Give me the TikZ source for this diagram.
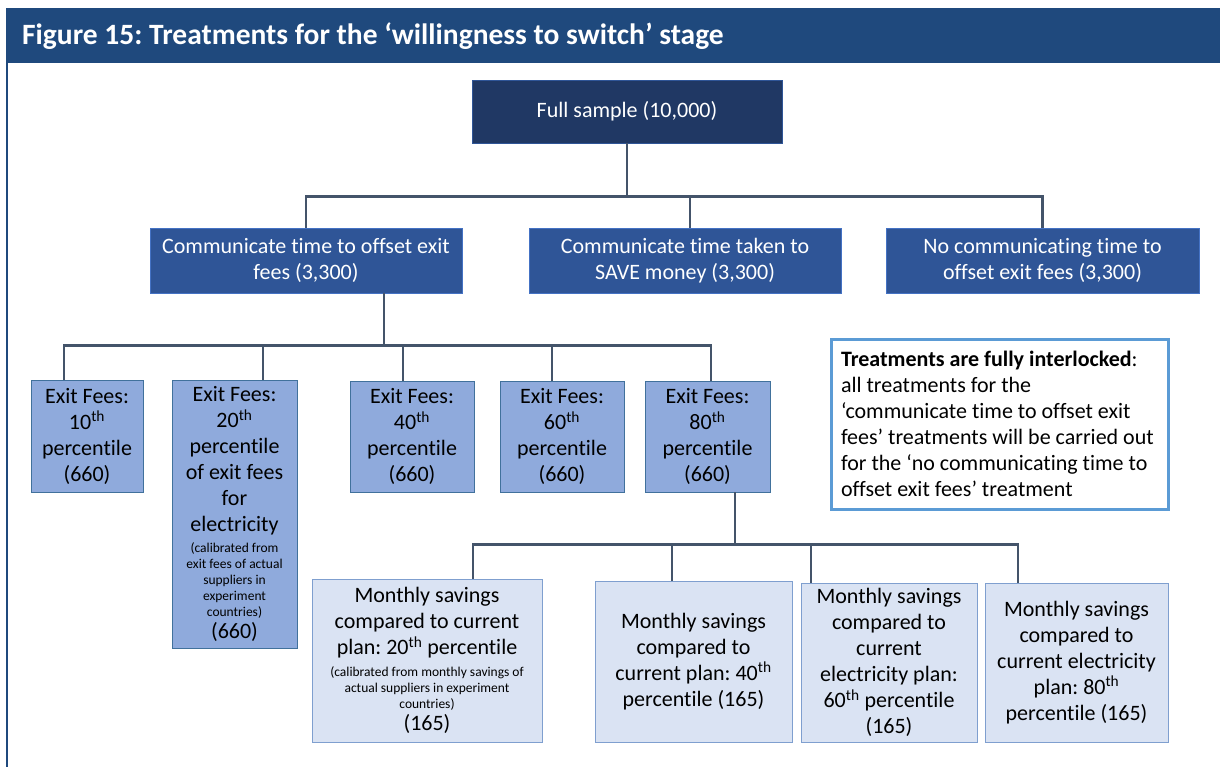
\documentclass[tikz,border=0pt]{standalone}
\usepackage{fontspec}
\setmainfont{Carlito}[Ligatures=NoCommon]
\usetikzlibrary{calc}
\definecolor{barblue}{HTML}{1F497D}
\definecolor{navy}{HTML}{203864}
\definecolor{midblue}{HTML}{2F5597}
\definecolor{midedge}{HTML}{4472C4}
\definecolor{exitfill}{HTML}{8FAADC}
\definecolor{exitedge}{HTML}{41719C}
\definecolor{paleblue}{HTML}{DAE3F3}
\definecolor{paleedge}{HTML}{7F9FCF}
\definecolor{noteedge}{HTML}{5B9BD5}
\definecolor{linkcol}{HTML}{44546A}
\newcommand\smallnote{\fontsize{13.5}{16}\selectfont}
\begin{document}
\frenchspacing
\begin{tikzpicture}[x=1pt,y=-1pt,
  basebox/.style={draw, line width=0.9pt, inner xsep=2pt, inner ysep=0pt, align=flush center,
    font=\fontsize{22}{26}\selectfont},
  topbox/.style={basebox, fill=navy, draw=midblue, text=white},
  treatbox/.style={basebox, fill=midblue, draw=midedge, text=white},
  exitbox/.style={basebox, fill=exitfill, draw=exitedge, text=black},
  savebox/.style={basebox, fill=paleblue, draw=paleedge, text=black},
  notebox/.style={draw=noteedge, line width=3pt, fill=white, inner xsep=10pt, inner ysep=0pt,
    align=flush left, text=black, font=\fontsize{22}{26}\selectfont},
  conn/.style={draw=linkcol, line width=2.6pt}
]
% page and frame
\fill[white] (0,0) rectangle (1220,767);
\useasboundingbox (0,0) rectangle (1220,767);
\fill[barblue] (6,8) rectangle (1220,63);
\draw[barblue, line width=2.2pt] (7,63) -- (7,767);
\node[anchor=west, inner sep=0pt, text=white, font=\fontsize{29.5}{34}\selectfont\bfseries]
  (title) at (22,36) {Figure 15: Treatments for the ‘willingness to switch’ stage};

% level 1
\node[topbox, text width=306pt, minimum height=63pt] (full) at (627,111.5) {Full sample (10,000)};

% level 2
\node[treatbox, text width=308pt, minimum height=65pt] (ca) at (306,260.5)
  {Communicate time to offset exit\\fees (3,300)};
\node[treatbox, text width=308pt, minimum height=65pt] (cb) at (685,260.5)
  {Communicate time taken to\\SAVE money (3,300)};
\node[treatbox, text width=309pt, minimum height=65pt] (cc) at (1042.5,260.5)
  {No communicating time to\\offset exit fees (3,300)};

% level 3: exit fee treatments
\node[exitbox, text width=108pt, minimum height=112pt] (e10) at (87,436)
  {Exit Fees:\\10\textsuperscript{th}\\percentile\\(660)};
\node[exitbox, text width=121pt, minimum height=268pt] (e20) at (234.5,514)
  {Exit Fees:\\20\textsuperscript{th}\\percentile\\of exit fees\\for\\electricity\par
   \vspace{5pt}{\smallnote (calibrated from\\exit fees of actual\\suppliers in\\experiment\\countries)\par}
   \vspace{-4pt}(660)};
\node[exitbox, text width=120pt, minimum height=111pt] (e40) at (412,436.5)
  {Exit Fees:\\40\textsuperscript{th}\\percentile\\(660)};
\node[exitbox, text width=120pt, minimum height=111pt] (e60) at (562,436.5)
  {Exit Fees:\\60\textsuperscript{th}\\percentile\\(660)};
\node[exitbox, text width=121pt, minimum height=111pt] (e80) at (707.5,436.5)
  {Exit Fees:\\80\textsuperscript{th}\\percentile\\(660)};

% level 4: monthly savings treatments
\node[savebox, text width=226pt, minimum height=163pt] (m20) at (427,660.5)
  {Monthly savings\\compared to current\\plan: 20\textsuperscript{th} percentile\par
   \vspace{6pt}{\smallnote (calibrated from monthly savings of\\actual suppliers in experiment\\countries)\par}
   \vspace{-4pt}(165)};
\node[savebox, text width=193pt, minimum height=161pt] (m40) at (693.5,661.5)
  {Monthly savings\\compared to\\current plan: 40\textsuperscript{th}\\percentile (165)};
\node[savebox, text width=172pt, minimum height=159pt] (m60) at (889,662.5)
  {Monthly savings\\compared to\\current\\electricity plan:\\60\textsuperscript{th} percentile\\(165)};
\node[savebox, text width=179pt, minimum height=159pt] (m80) at (1076.5,662.5)
  {Monthly savings\\compared to\\current electricity\\plan: 80\textsuperscript{th}\\percentile (165)};

% explanatory note
\node[notebox, text width=317pt, minimum height=170pt] (note) at (999.5,424)
  {\textbf{Treatments are fully interlocked}:\\all treatments for the\\‘communicate time to offset exit\\fees’ treatments will be carried out\\for the ‘no communicating time to\\offset exit fees’ treatment};

% connectors: level 1 to level 2
\coordinate (j1) at ($(full.south)+(0,53)$);
\draw[conn] (full.south) -- (j1);
\draw[conn] (ca.north) -- (ca.north |- j1) -- (cc.north |- j1) -- (cc.north);
\draw[conn] ([xshift=5pt]cb.north) -- ([xshift=5pt]cb.north |- j1);

% connectors: level 2 to level 3
\coordinate (a1) at ([xshift=78pt]ca.south);
\coordinate (j2) at ($(a1)+(0,52)$);
\coordinate (t10) at ([xshift=-23pt]e10.north);
\coordinate (t20) at ([xshift=28.5pt]e20.north);
\coordinate (t40) at ([xshift=-9pt]e40.north);
\coordinate (t60) at ([xshift=-10pt]e60.north);
\coordinate (t80) at ([xshift=3.5pt]e80.north);
\draw[conn] (a1) -- (j2);
\draw[conn] (t10) -- (t10 |- j2) -- (t80 |- j2) -- (t80);
\draw[conn] (t20) -- (t20 |- j2);
\draw[conn] (t40) -- (t40 |- j2);
\draw[conn] (t60) -- (t60 |- j2);

% connectors: level 3 to level 4
\coordinate (b80) at ([xshift=27.5pt]e80.south);
\coordinate (j3) at ($(b80)+(0,52)$);
\coordinate (u20) at ([xshift=46pt]m20.north);
\coordinate (u40) at ([xshift=-21.5pt]m40.north);
\coordinate (u60) at ([xshift=-78pt]m60.north);
\coordinate (u80) at ([xshift=-58.5pt]m80.north);
\draw[conn] (b80) -- (j3);
\draw[conn] (u20) -- (u20 |- j3) -- (u80 |- j3) -- (u80);
\draw[conn] (u40) -- (u40 |- j3);
\draw[conn] (u60) -- (u60 |- j3);
\end{tikzpicture}
\end{document}
